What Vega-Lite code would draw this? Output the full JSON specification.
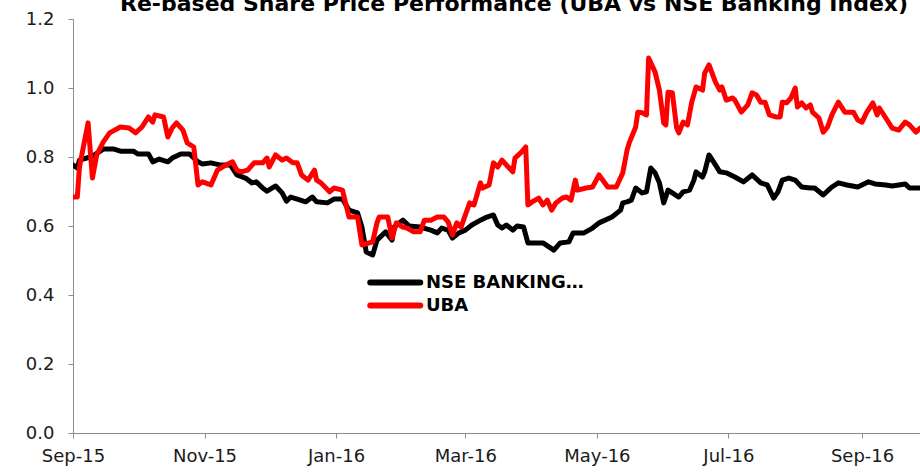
{
  "$schema": "https://vega.github.io/schema/vega-lite/v6.json",
  "width": 847,
  "height": 414,
  "autosize": {"type": "none"},
  "padding": {"left": 73, "top": 19, "right": 0, "bottom": 39},
  "background": "#ffffff",
  "config": {"view": {"stroke": null}},
  "title": {
    "text": "Re-based Share Price Performance (UBA vs NSE Banking Index)",
    "anchor": "start",
    "frame": "group",
    "dx": 47,
    "dy": 23,
    "offset": 0,
    "baseline": "alphabetic",
    "font": "DejaVu Sans",
    "fontSize": 22,
    "fontWeight": "bold",
    "color": "#000000"
  },
  "datasets": {
    "nse": [
      {"date":"2015-09-01","value":0.777},{"date":"2015-09-03","value":0.768},{"date":"2015-09-04","value":0.791},{"date":"2015-09-09","value":0.800},{"date":"2015-09-11","value":0.806},{"date":"2015-09-15","value":0.823},{"date":"2015-09-20","value":0.823},{"date":"2015-09-23","value":0.817},{"date":"2015-09-29","value":0.817},{"date":"2015-10-01","value":0.809},{"date":"2015-10-06","value":0.809},{"date":"2015-10-08","value":0.786},{"date":"2015-10-11","value":0.794},{"date":"2015-10-15","value":0.786},{"date":"2015-10-17","value":0.797},{"date":"2015-10-21","value":0.809},{"date":"2015-10-25","value":0.809},{"date":"2015-10-29","value":0.786},{"date":"2015-10-31","value":0.780},{"date":"2015-11-04","value":0.783},{"date":"2015-11-08","value":0.777},{"date":"2015-11-13","value":0.777},{"date":"2015-11-16","value":0.748},{"date":"2015-11-20","value":0.739},{"date":"2015-11-23","value":0.725},{"date":"2015-11-25","value":0.728},{"date":"2015-11-28","value":0.710},{"date":"2015-11-30","value":0.701},{"date":"2015-12-04","value":0.716},{"date":"2015-12-07","value":0.696},{"date":"2015-12-09","value":0.672},{"date":"2015-12-11","value":0.684},{"date":"2015-12-14","value":0.678},{"date":"2015-12-18","value":0.670},{"date":"2015-12-21","value":0.684},{"date":"2015-12-23","value":0.670},{"date":"2015-12-28","value":0.667},{"date":"2015-12-31","value":0.678},{"date":"2016-01-04","value":0.678},{"date":"2016-01-07","value":0.646},{"date":"2016-01-11","value":0.638},{"date":"2016-01-13","value":0.597},{"date":"2016-01-15","value":0.525},{"date":"2016-01-18","value":0.516},{"date":"2016-01-20","value":0.559},{"date":"2016-01-24","value":0.583},{"date":"2016-01-27","value":0.559},{"date":"2016-01-28","value":0.597},{"date":"2016-02-01","value":0.617},{"date":"2016-02-04","value":0.600},{"date":"2016-02-09","value":0.597},{"date":"2016-02-14","value":0.588},{"date":"2016-02-17","value":0.580},{"date":"2016-02-19","value":0.594},{"date":"2016-02-22","value":0.588},{"date":"2016-02-24","value":0.565},{"date":"2016-02-27","value":0.580},{"date":"2016-03-01","value":0.588},{"date":"2016-03-04","value":0.603},{"date":"2016-03-08","value":0.617},{"date":"2016-03-11","value":0.626},{"date":"2016-03-14","value":0.632},{"date":"2016-03-16","value":0.603},{"date":"2016-03-18","value":0.594},{"date":"2016-03-20","value":0.603},{"date":"2016-03-23","value":0.588},{"date":"2016-03-25","value":0.600},{"date":"2016-03-28","value":0.597},{"date":"2016-03-30","value":0.551},{"date":"2016-04-03","value":0.551},{"date":"2016-04-06","value":0.551},{"date":"2016-04-11","value":0.530},{"date":"2016-04-14","value":0.551},{"date":"2016-04-18","value":0.554},{"date":"2016-04-20","value":0.580},{"date":"2016-04-25","value":0.580},{"date":"2016-04-29","value":0.594},{"date":"2016-05-02","value":0.609},{"date":"2016-05-08","value":0.626},{"date":"2016-05-12","value":0.646},{"date":"2016-05-13","value":0.667},{"date":"2016-05-15","value":0.670},{"date":"2016-05-17","value":0.675},{"date":"2016-05-19","value":0.710},{"date":"2016-05-22","value":0.696},{"date":"2016-05-24","value":0.699},{"date":"2016-05-26","value":0.768},{"date":"2016-05-28","value":0.754},{"date":"2016-05-30","value":0.725},{"date":"2016-06-01","value":0.667},{"date":"2016-06-03","value":0.704},{"date":"2016-06-05","value":0.696},{"date":"2016-06-08","value":0.684},{"date":"2016-06-10","value":0.699},{"date":"2016-06-13","value":0.704},{"date":"2016-06-15","value":0.733},{"date":"2016-06-16","value":0.757},{"date":"2016-06-19","value":0.742},{"date":"2016-06-20","value":0.757},{"date":"2016-06-22","value":0.806},{"date":"2016-06-25","value":0.777},{"date":"2016-06-27","value":0.757},{"date":"2016-06-30","value":0.754},{"date":"2016-07-04","value":0.742},{"date":"2016-07-08","value":0.728},{"date":"2016-07-12","value":0.748},{"date":"2016-07-16","value":0.725},{"date":"2016-07-19","value":0.719},{"date":"2016-07-22","value":0.681},{"date":"2016-07-24","value":0.699},{"date":"2016-07-26","value":0.733},{"date":"2016-07-29","value":0.739},{"date":"2016-08-01","value":0.733},{"date":"2016-08-04","value":0.713},{"date":"2016-08-08","value":0.710},{"date":"2016-08-10","value":0.710},{"date":"2016-08-14","value":0.690},{"date":"2016-08-18","value":0.713},{"date":"2016-08-21","value":0.725},{"date":"2016-08-25","value":0.719},{"date":"2016-08-30","value":0.713},{"date":"2016-09-04","value":0.728},{"date":"2016-09-07","value":0.722},{"date":"2016-09-12","value":0.719},{"date":"2016-09-15","value":0.716},{"date":"2016-09-21","value":0.722},{"date":"2016-09-23","value":0.710},{"date":"2016-09-28","value":0.710},{"date":"2016-09-30","value":0.708}
    ],
    "uba": [
      {"date":"2015-09-01","value":0.684},{"date":"2015-09-03","value":0.684},{"date":"2015-09-04","value":0.771},{"date":"2015-09-08","value":0.899},{"date":"2015-09-10","value":0.739},{"date":"2015-09-12","value":0.806},{"date":"2015-09-15","value":0.843},{"date":"2015-09-18","value":0.870},{"date":"2015-09-23","value":0.887},{"date":"2015-09-27","value":0.884},{"date":"2015-09-30","value":0.870},{"date":"2015-10-03","value":0.887},{"date":"2015-10-06","value":0.916},{"date":"2015-10-08","value":0.901},{"date":"2015-10-09","value":0.922},{"date":"2015-10-13","value":0.916},{"date":"2015-10-15","value":0.858},{"date":"2015-10-17","value":0.884},{"date":"2015-10-19","value":0.899},{"date":"2015-10-22","value":0.878},{"date":"2015-10-24","value":0.841},{"date":"2015-10-27","value":0.829},{"date":"2015-10-29","value":0.719},{"date":"2015-10-31","value":0.728},{"date":"2015-11-04","value":0.719},{"date":"2015-11-07","value":0.762},{"date":"2015-11-11","value":0.777},{"date":"2015-11-14","value":0.786},{"date":"2015-11-16","value":0.762},{"date":"2015-11-18","value":0.757},{"date":"2015-11-21","value":0.762},{"date":"2015-11-24","value":0.783},{"date":"2015-11-28","value":0.783},{"date":"2015-11-30","value":0.797},{"date":"2015-12-01","value":0.771},{"date":"2015-12-04","value":0.806},{"date":"2015-12-07","value":0.791},{"date":"2015-12-09","value":0.797},{"date":"2015-12-12","value":0.783},{"date":"2015-12-14","value":0.783},{"date":"2015-12-16","value":0.748},{"date":"2015-12-19","value":0.733},{"date":"2015-12-22","value":0.762},{"date":"2015-12-23","value":0.733},{"date":"2015-12-25","value":0.725},{"date":"2015-12-29","value":0.699},{"date":"2015-12-31","value":0.710},{"date":"2016-01-04","value":0.704},{"date":"2016-01-07","value":0.626},{"date":"2016-01-11","value":0.626},{"date":"2016-01-13","value":0.545},{"date":"2016-01-18","value":0.554},{"date":"2016-01-20","value":0.609},{"date":"2016-01-21","value":0.626},{"date":"2016-01-25","value":0.626},{"date":"2016-01-27","value":0.565},{"date":"2016-01-29","value":0.609},{"date":"2016-02-01","value":0.597},{"date":"2016-02-03","value":0.594},{"date":"2016-02-06","value":0.583},{"date":"2016-02-09","value":0.583},{"date":"2016-02-11","value":0.617},{"date":"2016-02-14","value":0.617},{"date":"2016-02-17","value":0.626},{"date":"2016-02-20","value":0.626},{"date":"2016-02-22","value":0.612},{"date":"2016-02-24","value":0.574},{"date":"2016-02-26","value":0.609},{"date":"2016-02-28","value":0.597},{"date":"2016-03-01","value":0.632},{"date":"2016-03-03","value":0.667},{"date":"2016-03-05","value":0.661},{"date":"2016-03-08","value":0.725},{"date":"2016-03-09","value":0.710},{"date":"2016-03-12","value":0.719},{"date":"2016-03-14","value":0.783},{"date":"2016-03-16","value":0.771},{"date":"2016-03-18","value":0.791},{"date":"2016-03-20","value":0.777},{"date":"2016-03-23","value":0.757},{"date":"2016-03-24","value":0.797},{"date":"2016-03-27","value":0.814},{"date":"2016-03-29","value":0.829},{"date":"2016-03-30","value":0.661},{"date":"2016-04-01","value":0.670},{"date":"2016-04-04","value":0.681},{"date":"2016-04-06","value":0.661},{"date":"2016-04-08","value":0.675},{"date":"2016-04-10","value":0.646},{"date":"2016-04-12","value":0.667},{"date":"2016-04-15","value":0.681},{"date":"2016-04-17","value":0.684},{"date":"2016-04-19","value":0.675},{"date":"2016-04-21","value":0.733},{"date":"2016-04-22","value":0.704},{"date":"2016-04-26","value":0.710},{"date":"2016-04-29","value":0.713},{"date":"2016-05-02","value":0.748},{"date":"2016-05-06","value":0.713},{"date":"2016-05-10","value":0.713},{"date":"2016-05-13","value":0.754},{"date":"2016-05-15","value":0.820},{"date":"2016-05-16","value":0.841},{"date":"2016-05-19","value":0.887},{"date":"2016-05-20","value":0.930},{"date":"2016-05-22","value":0.928},{"date":"2016-05-24","value":0.922},{"date":"2016-05-25","value":1.087},{"date":"2016-05-28","value":1.046},{"date":"2016-05-30","value":0.994},{"date":"2016-06-01","value":0.899},{"date":"2016-06-02","value":0.893},{"date":"2016-06-03","value":0.988},{"date":"2016-06-05","value":0.986},{"date":"2016-06-07","value":0.884},{"date":"2016-06-08","value":0.870},{"date":"2016-06-10","value":0.901},{"date":"2016-06-12","value":0.893},{"date":"2016-06-14","value":0.959},{"date":"2016-06-16","value":1.003},{"date":"2016-06-19","value":0.994},{"date":"2016-06-20","value":1.043},{"date":"2016-06-22","value":1.067},{"date":"2016-06-25","value":1.017},{"date":"2016-06-27","value":0.994},{"date":"2016-06-28","value":1.003},{"date":"2016-06-30","value":0.965},{"date":"2016-07-03","value":0.971},{"date":"2016-07-04","value":0.965},{"date":"2016-07-07","value":0.930},{"date":"2016-07-10","value":0.951},{"date":"2016-07-12","value":0.986},{"date":"2016-07-14","value":0.980},{"date":"2016-07-16","value":0.959},{"date":"2016-07-18","value":0.959},{"date":"2016-07-20","value":0.922},{"date":"2016-07-23","value":0.916},{"date":"2016-07-25","value":0.916},{"date":"2016-07-26","value":0.959},{"date":"2016-07-28","value":0.957},{"date":"2016-07-30","value":0.971},{"date":"2016-08-01","value":1.000},{"date":"2016-08-02","value":0.945},{"date":"2016-08-04","value":0.957},{"date":"2016-08-06","value":0.942},{"date":"2016-08-08","value":0.951},{"date":"2016-08-09","value":0.930},{"date":"2016-08-12","value":0.913},{"date":"2016-08-14","value":0.872},{"date":"2016-08-16","value":0.887},{"date":"2016-08-18","value":0.922},{"date":"2016-08-21","value":0.959},{"date":"2016-08-24","value":0.930},{"date":"2016-08-28","value":0.930},{"date":"2016-08-30","value":0.907},{"date":"2016-09-01","value":0.901},{"date":"2016-09-03","value":0.928},{"date":"2016-09-06","value":0.957},{"date":"2016-09-08","value":0.922},{"date":"2016-09-09","value":0.942},{"date":"2016-09-12","value":0.913},{"date":"2016-09-15","value":0.884},{"date":"2016-09-18","value":0.878},{"date":"2016-09-21","value":0.901},{"date":"2016-09-23","value":0.893},{"date":"2016-09-26","value":0.872},{"date":"2016-09-28","value":0.884},{"date":"2016-09-30","value":0.884}
    ]
  },
  "encoding": {
    "x": {
      "field": "date",
      "type": "temporal",
      "scale": {
        "type": "utc",
        "domain": [
          {"year": 2015, "month": 9, "date": 1, "utc": true},
          {"year": 2016, "month": 9, "date": 27, "hours": 21, "utc": true}
        ],
        "nice": false
      },
      "axis": {
        "title": null,
        "labelExpr": "utcFormat(datum.value, '%b-%y')",
        "values": [
          {"year": 2015, "month": 9, "date": 1, "utc": true},
          {"year": 2015, "month": 11, "date": 1, "utc": true},
          {"year": 2016, "month": 1, "date": 1, "utc": true},
          {"year": 2016, "month": 3, "date": 1, "utc": true},
          {"year": 2016, "month": 5, "date": 1, "utc": true},
          {"year": 2016, "month": 7, "date": 1, "utc": true},
          {"year": 2016, "month": 9, "date": 1, "utc": true}
        ],
        "grid": false,
        "domainColor": "#8c8c8c",
        "domainWidth": 1,
        "tickColor": "#8c8c8c",
        "tickSize": 5,
        "labelFont": "DejaVu Sans",
        "labelFontSize": 18,
        "labelColor": "#1a1a1a",
        "labelPadding": 9,
        "labelAlign": "center",
        "labelFlush": false,
        "labelOverlap": false
      }
    },
    "y": {
      "field": "value",
      "type": "quantitative",
      "scale": {"domain": [0, 1.2], "nice": false, "zero": true},
      "axis": {
        "title": null,
        "values": [0, 0.2, 0.4, 0.6, 0.8, 1.0, 1.2],
        "format": ".1f",
        "grid": false,
        "domainColor": "#8c8c8c",
        "domainWidth": 1,
        "tickColor": "#8c8c8c",
        "tickSize": 5,
        "labelFont": "DejaVu Sans",
        "labelFontSize": 18,
        "labelColor": "#1a1a1a",
        "labelPadding": 14
      }
    },
    "color": {
      "field": "series",
      "type": "nominal",
      "scale": {"domain": ["NSE BANKING INDEX", "UBA"], "range": ["#000000", "#ff0000"]},
      "legend": {
        "title": null,
        "orient": "none",
        "legendX": 294,
        "legendY": 254,
        "direction": "vertical",
        "symbolType": "M-1,0L7,0",
        "symbolSize": 156.25,
        "symbolStrokeWidth": 6,
        "labelOffset": 40,
        "labelFont": "DejaVu Sans",
        "labelFontSize": 18,
        "labelFontWeight": "bold",
        "labelColor": "#000000",
        "labelBaseline": "middle",
        "labelLimit": 400,
        "rowPadding": -2,
        "labelExpr": "datum.label == 'NSE BANKING INDEX' ? 'NSE BANKING…' : datum.label",
        "encode": {"symbols": {"update": {"strokeCap": {"value": "round"}}}}
      }
    }
  },
  "layer": [
    {
      "data": {"name": "nse", "format": {"parse": {"date": "utc:'%Y-%m-%d'"}}},
      "transform": [{"calculate": "'NSE BANKING INDEX'", "as": "series"}],
      "mark": {"type": "line", "strokeWidth": 5, "strokeJoin": "round", "strokeCap": "round", "clip": true}
    },
    {
      "data": {"name": "uba", "format": {"parse": {"date": "utc:'%Y-%m-%d'"}}},
      "transform": [{"calculate": "'UBA'", "as": "series"}],
      "mark": {"type": "line", "strokeWidth": 5, "strokeJoin": "round", "strokeCap": "round", "clip": true}
    }
  ]
}
